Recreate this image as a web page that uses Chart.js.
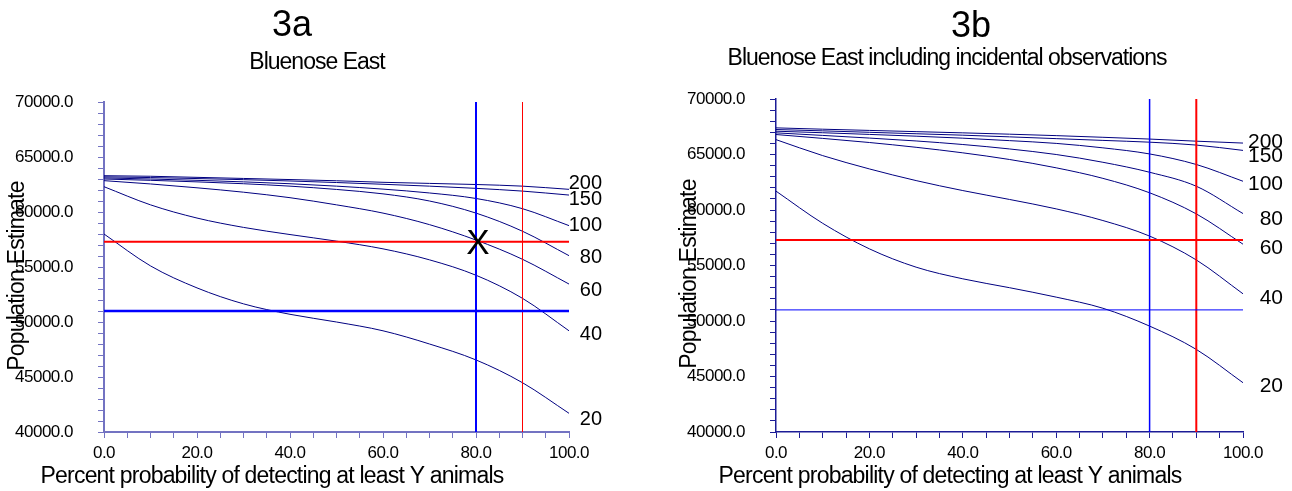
<!DOCTYPE html>
<html>
<head>
<meta charset="utf-8">
<title>Bluenose East - population estimate vs detection probability</title>
<script src="https://cdn.jsdelivr.net/npm/chart.js@4.4.1/dist/chart.umd.min.js"></script>
<style>
  html, body { margin: 0; padding: 0; background: #fff; }
  #page { position: relative; width: 1292px; height: 491px; }
  .panel { position: absolute; top: 0; height: 491px; }
  #panel-a { left: 0; width: 640px; }
  #panel-b { left: 640px; width: 652px; }
</style>
</head>
<body>
<div id="page">
  <div class="panel" id="panel-a"><canvas id="chart-a"></canvas></div>
  <div class="panel" id="panel-b"><canvas id="chart-b"></canvas></div>
</div>
<script>
// x values shared by every curve (percent probability of detecting at least Y animals)
const probability = [0, 10, 20, 30, 40, 50, 60, 70, 80, 90, 100];
// Y animals, one curve each
const curveNames = ['200', '150', '100', '80', '60', '40', '20'];

// 3a - Bluenose East
const east200 = [63300, 63250, 63150, 63050, 62950, 62840, 62700, 62600, 62500, 62350, 62060];
const east150 = [63200, 63130, 63040, 62940, 62820, 62680, 62520, 62350, 62150, 61900, 61540];
const east100 = [63100, 63000, 62880, 62740, 62570, 62350, 62080, 61730, 61230, 60300, 58760];
const east80  = [63000, 62880, 62740, 62570, 62350, 62050, 61650, 61000, 59900, 58250, 56030];
const east60  = [62850, 62550, 62200, 61800, 61300, 60650, 59900, 58850, 57450, 55700, 53450];
const east40  = [62300, 60650, 59450, 58600, 57950, 57350, 56650, 55650, 54250, 52150, 49200];
const east20  = [58000, 55100, 53100, 51650, 50700, 50000, 49200, 48000, 46550, 44480, 41700];

// 3b - Bluenose East including incidental observations
const incid200 = [67400, 67280, 67170, 67060, 66950, 66830, 66700, 66550, 66390, 66200, 66030];
const incid150 = [67250, 67130, 67000, 66870, 66740, 66590, 66430, 66270, 66110, 65850, 65370];
const incid100 = [67100, 66960, 66810, 66650, 66470, 66250, 66000, 65600, 65050, 64100, 62590];
const incid80  = [66950, 66720, 66480, 66220, 65900, 65500, 65000, 64300, 63400, 62140, 59680];
const incid60  = [66800, 66450, 66080, 65650, 65150, 64550, 63800, 62850, 61550, 59650, 56920];
const incid40  = [66340, 64900, 63700, 62650, 61750, 60950, 60100, 59050, 57650, 55500, 52450];
const incid20  = [61700, 58800, 56500, 54850, 53800, 53000, 52150, 51150, 49540, 47440, 44440];

// reference lines: blue / red
const targetProbability = [80, 90];
const targetEstimate = [51000, 57300];

// labelled ticks
const xTickLabels = [0, 20, 40, 60, 80, 100];
const yTickLabels = [40000, 45000, 50000, 55000, 60000, 65000, 70000];

const FONT = "'Liberation Sans', Arial, sans-serif";

function drawText(ctx, str, x, y, size, spacing, align, baseline) {
  ctx.font = size + 'px ' + FONT;
  ctx.letterSpacing = spacing + 'px';
  ctx.textAlign = align || 'center';
  ctx.textBaseline = baseline || 'alphabetic';
  ctx.fillText(str, x, y);
}

function panelText(cfg) {
  return {
    id: 'panelText',
    beforeDraw(chart) {
      // tick labels are a little condensed in the original
      chart.ctx.letterSpacing = '-0.5px';
    },
    afterDraw(chart) {
      const ctx = chart.ctx;
      const xs = chart.scales.x, ys = chart.scales.y;
      ctx.save();
      ctx.fillStyle = '#000';
      drawText(ctx, cfg.title, cfg.titleX, cfg.titleY, 36, 0);
      drawText(ctx, cfg.subtitle, cfg.subX, cfg.subY, 23, -1);
      drawText(ctx, 'Percent probability of detecting at least Y animals', cfg.xTitleX, 483, 23, -0.8);

      ctx.save();
      ctx.translate(cfg.yTitleX, cfg.yTitleY);
      ctx.rotate(-Math.PI / 2);
      drawText(ctx, 'Population Estimate', 0, 0, 23, -0.8, 'center', 'middle');
      ctx.restore();

      // curve names at the right end of each curve
      cfg.curves.forEach((vals, i) => {
        const py = ys.getPixelForValue(vals[vals.length - 1]) + cfg.labelNudge[i];
        drawText(ctx, curveNames[i], chart.chartArea.right + cfg.labelGap, py, cfg.labelSize, 0, 'right', 'middle');
      });

      if (cfg.marker) {
        const px = xs.getPixelForValue(targetProbability[0]);
        const py = ys.getPixelForValue(targetEstimate[1]);
        drawText(ctx, 'X', px + 2, py + 12, 35, 0, 'center', 'alphabetic');
      }
      ctx.restore();
    }
  };
}

function refLine(points, color, width) {
  return {
    data: points, borderColor: color, borderWidth: width,
    pointRadius: 0, tension: 0
  };
}

function makePanel(cfg) {
  const datasets = [
    refLine([{x: 0, y: targetEstimate[1]}, {x: 100, y: targetEstimate[1]}], '#ff0000', cfg.refWidths[1]),
    refLine([{x: 0, y: targetEstimate[0]}, {x: 100, y: targetEstimate[0]}], '#0000ff', cfg.refWidths[0]),
    refLine([{x: targetProbability[0], y: 40000}, {x: targetProbability[0], y: 70000}], '#0000ff', cfg.refWidths[2]),
    refLine([{x: targetProbability[1], y: 40000}, {x: targetProbability[1], y: 70000}], '#ff0000', cfg.refWidths[3])
  ];
  cfg.curves.forEach((vals, i) => {
    datasets.push({
      label: curveNames[i],
      data: vals.map((v, j) => ({x: probability[j], y: v})),
      borderColor: '#000080',
      borderWidth: 1,
      pointRadius: 0,
      cubicInterpolationMode: 'monotone'
    });
  });

  const tickFont = {family: FONT, size: 17};
  const grid = {drawOnChartArea: false, drawTicks: true, tickLength: 6, color: cfg.axisColor, lineWidth: 1};
  const border = {display: true, color: cfg.axisColor, width: cfg.axisWidth};

  return new Chart(document.getElementById(cfg.canvas), {
    type: 'line',
    data: {datasets},
    options: {
      responsive: true,
      maintainAspectRatio: false,
      animation: false,
      layout: {padding: {top: cfg.top, right: cfg.right, bottom: 0, left: 0}},
      plugins: {legend: {display: false}, tooltip: {enabled: false}},
      scales: {
        x: {
          type: 'linear', min: 0, max: 100,
          grid, border,
          ticks: {
            stepSize: 5, autoSkip: false, maxRotation: 0, minRotation: 0,
            padding: 5, color: '#000', font: tickFont,
            callback: v => xTickLabels.includes(Math.round(v)) ? v.toFixed(1) : ''
          },
          afterFit: s => { s.height = 59; }
        },
        y: {
          type: 'linear', min: 40000, max: 70000,
          grid, border,
          ticks: {
            stepSize: 1000, autoSkip: false,
            padding: 25, color: '#000', font: tickFont,
            callback: v => yTickLabels.includes(Math.round(v)) ? v.toFixed(1) : ''
          },
          afterFit: s => { s.width = cfg.yWidth; }
        }
      }
    },
    plugins: [panelText(cfg)]
  });
}

makePanel({
  canvas: 'chart-a',
  curves: [east200, east150, east100, east80, east60, east40, east20],
  axisColor: '#7373c2', axisWidth: 2,
  top: 102, right: 71, yWidth: 104,
  refWidths: [2.5, 2, 2, 1],
  title: '3a', titleX: 292, titleY: 36,
  subtitle: 'Bluenose East', subX: 317, subY: 69,
  xTitleX: 272, yTitleX: 18, yTitleY: 276,
  labelGap: 33, labelSize: 20, labelNudge: [-6, 4, 0, 2, 6, 4, 6],
  marker: true
});

makePanel({
  canvas: 'chart-b',
  curves: [incid200, incid150, incid100, incid80, incid60, incid40, incid20],
  axisColor: '#1c1c96', axisWidth: 1.5,
  top: 99, right: 49, yWidth: 136,
  refWidths: [1, 2, 1.5, 2],
  title: '3b', titleX: 331, titleY: 37,
  subtitle: 'Bluenose East including incidental observations', subX: 307, subY: 65,
  xTitleX: 310, yTitleX: 50, yTitleY: 274,
  labelGap: 40, labelSize: 21, labelNudge: [-1, 6, 3, 6, 4, 4, 3],
  marker: false
});
</script>
</body>
</html>
